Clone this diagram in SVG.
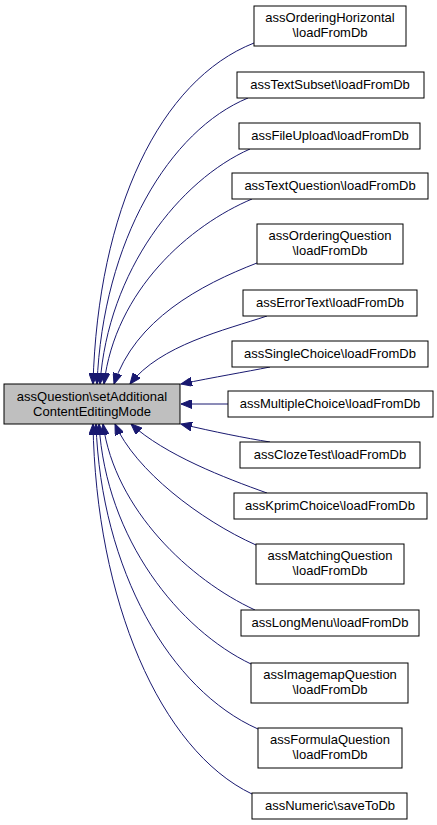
<svg xmlns="http://www.w3.org/2000/svg" width="437" height="825" viewBox="0 0 437 825">
<style>
.n rect{fill:#fff;stroke:#000;stroke-width:1}
#main rect{fill:#bfbfbf}
text{font-family:"Liberation Sans",Arial,sans-serif;font-size:13px;text-anchor:middle;fill:#000}
.e path{fill:none;stroke:#191970;stroke-width:1;marker-end:url(#ah)}
</style>
<defs>
<marker id="ah" markerUnits="userSpaceOnUse" markerWidth="12" markerHeight="9" refX="11" refY="4.5" orient="auto">
<path d="M0,0 L11,4.5 L0,9 Z" fill="#191970" stroke="#191970" stroke-width="1"/>
</marker>
</defs>
<rect width="437" height="825" fill="#fff"/>
<g class="e" id="edges">
<path d="M254,43 C160,80 98,210 93,384"/>
<path d="M248,98 C170,130 103,240 97,384"/>
<path d="M250,149 C180,180 108,270 100,384"/>
<path d="M252,199 C190,225 115,290 104,384"/>
<path d="M257,263 C200,285 135,320 114,384"/>
<path d="M267,316 C225,330 160,345 130,384"/>
<path d="M270,367 C245,372 215,377 181,384"/>
<path d="M228,404 L181,404"/>
<path d="M270,442 C245,438 215,432 181,424"/>
<path d="M267,493 C225,478 165,455 131,424"/>
<path d="M256,545 C200,520 135,470 115,424"/>
<path d="M255,610 C190,580 115,510 103,424"/>
<path d="M251,664 C180,630 106,540 99,424"/>
<path d="M258,729 C170,690 101,570 96,424"/>
<path d="M252,794 C160,750 96,600 93,424"/>
</g>
<g class="n" id="main"><rect x="4" y="384" width="176" height="40"/><text x="92" y="401">assQuestion\setAdditional</text><text x="92" y="416">ContentEditingMode</text></g>
<g class="n" id="n1"><rect x="254" y="6" width="152" height="40"/><text x="330" y="22">assOrderingHorizontal</text><text x="330" y="37">\loadFromDb</text></g>
<g class="n" id="n2"><rect x="237" y="72" width="187" height="26"/><text x="330" y="89">assTextSubset\loadFromDb</text></g>
<g class="n" id="n3"><rect x="239" y="123" width="181" height="26"/><text x="330" y="140">assFileUpload\loadFromDb</text></g>
<g class="n" id="n4"><rect x="232" y="173" width="196" height="26"/><text x="330" y="190">assTextQuestion\loadFromDb</text></g>
<g class="n" id="n5"><rect x="257" y="224" width="146" height="40"/><text x="330" y="240">assOrderingQuestion</text><text x="330" y="255">\loadFromDb</text></g>
<g class="n" id="n6"><rect x="243" y="290" width="174" height="26"/><text x="330" y="307">assErrorText\loadFromDb</text></g>
<g class="n" id="n7"><rect x="232" y="341" width="196" height="26"/><text x="330" y="358">assSingleChoice\loadFromDb</text></g>
<g class="n" id="n8"><rect x="228" y="391" width="205" height="26"/><text x="330" y="408">assMultipleChoice\loadFromDb</text></g>
<g class="n" id="n9"><rect x="240" y="442" width="180" height="26"/><text x="330" y="459">assClozeTest\loadFromDb</text></g>
<g class="n" id="n10"><rect x="234" y="493" width="193" height="26"/><text x="330" y="510">assKprimChoice\loadFromDb</text></g>
<g class="n" id="n11"><rect x="256" y="544" width="148" height="40"/><text x="330" y="560">assMatchingQuestion</text><text x="330" y="575">\loadFromDb</text></g>
<g class="n" id="n12"><rect x="241" y="610" width="178" height="26"/><text x="330" y="627">assLongMenu\loadFromDb</text></g>
<g class="n" id="n13"><rect x="251" y="663" width="157" height="40"/><text x="330" y="679">assImagemapQuestion</text><text x="330" y="694">\loadFromDb</text></g>
<g class="n" id="n14"><rect x="258" y="728" width="144" height="40"/><text x="330" y="744">assFormulaQuestion</text><text x="330" y="759">\loadFromDb</text></g>
<g class="n" id="n15"><rect x="252" y="793" width="155" height="26"/><text x="330" y="810">assNumeric\saveToDb</text></g>
</svg>
